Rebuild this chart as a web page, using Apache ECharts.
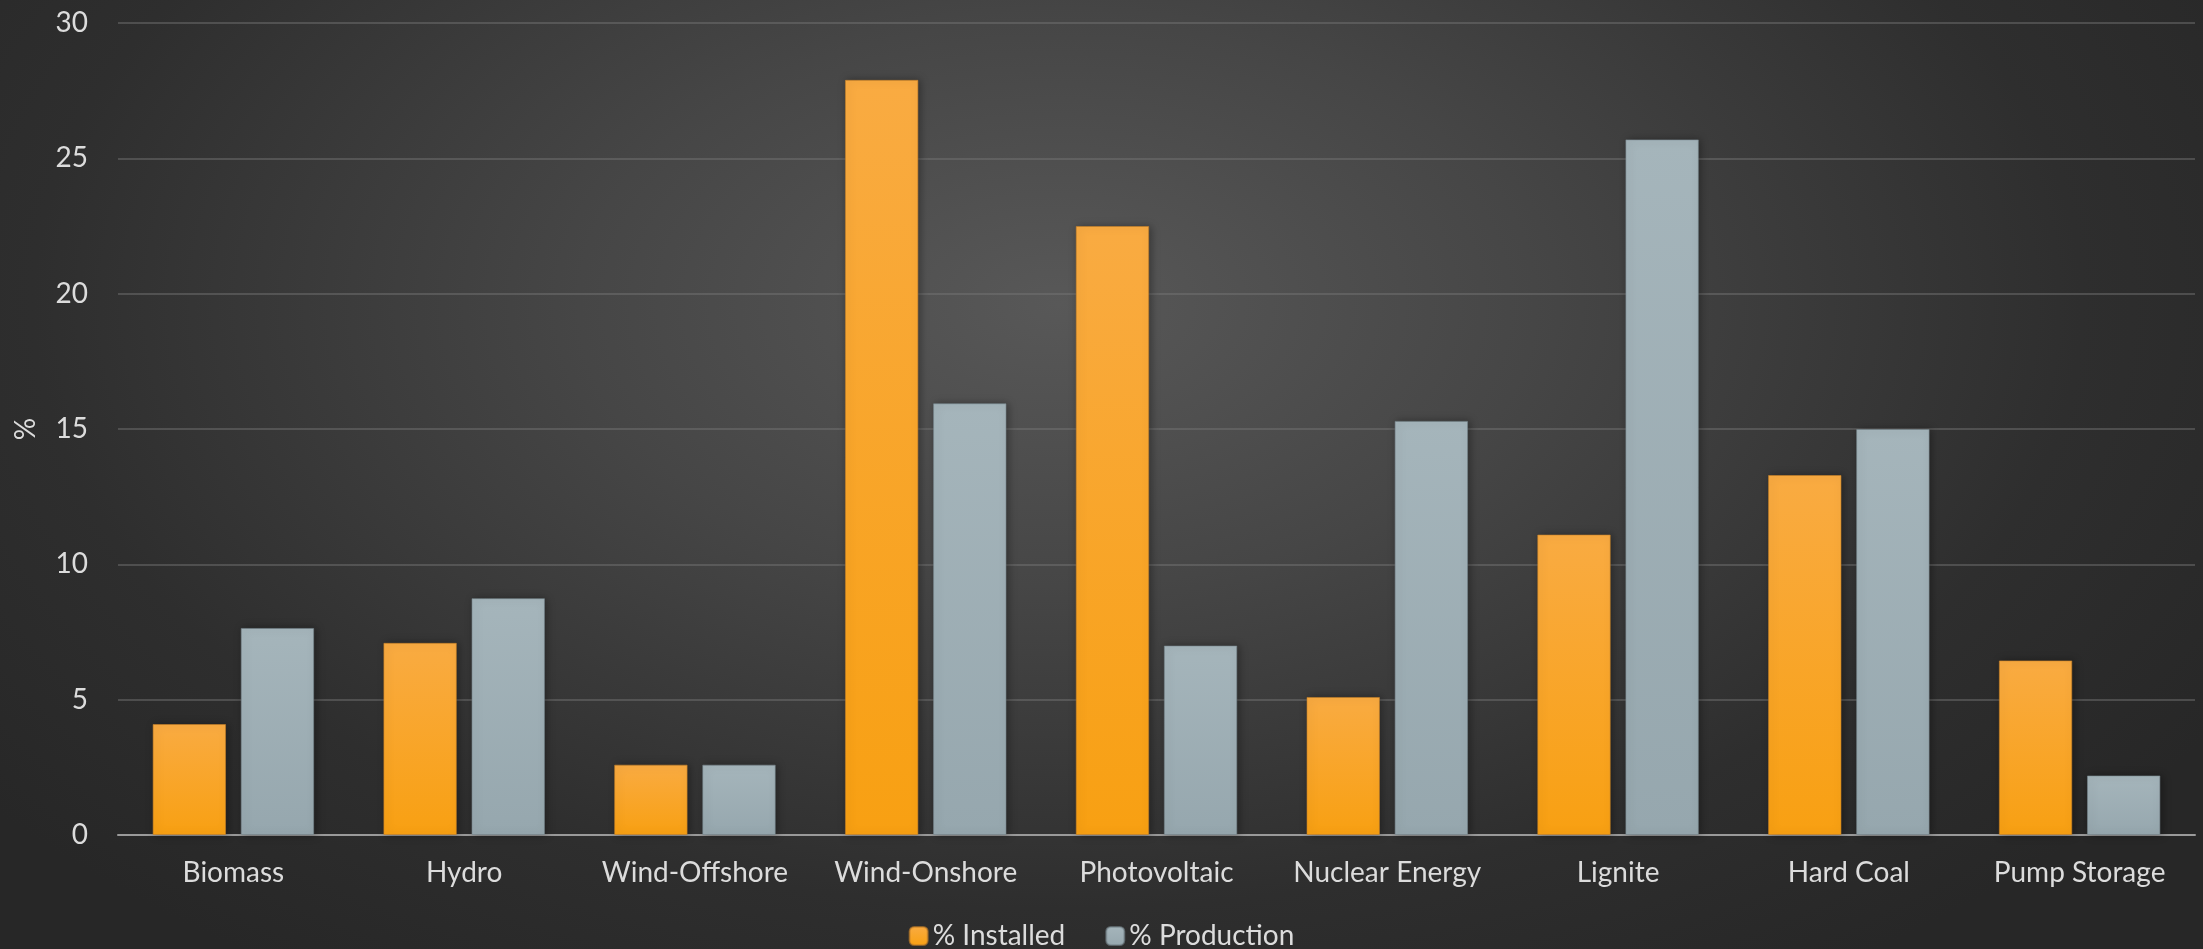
<!DOCTYPE html>
<html>
<head>
<meta charset="utf-8">
<script src="https://cdn.jsdelivr.net/npm/echarts@6/dist/echarts.min.js"></script>
<style>
  html, body { margin: 0; padding: 0; }
  #chart {
    width: 2203px;
    height: 949px;
    background: radial-gradient(ellipse 62% 85% at 48% 32%, #585858 0%, #464646 35%, #2e2e2e 75%, #272727 100%);
  }
</style>
</head>
<body>
<div id="chart"></div>
<script>
  // data
  var categories = ['Biomass', 'Hydro', 'Wind-Offshore', 'Wind-Onshore', 'Photovoltaic', 'Nuclear Energy', 'Lignite', 'Hard Coal', 'Pump Storage']
  var installed = [4.1, 7.1, 2.6, 27.9, 22.5, 5.1, 11.1, 13.3, 6.45]
  var production = [7.65, 8.75, 2.6, 15.95, 7.0, 15.3, 25.7, 15.0, 2.2]
  var seriesNames = ['% Installed', '% Production']

  var font = 'Lato, "Open Sans", sans-serif'
  var textColor = '#dcdcdc'

  var chart = echarts.init(document.getElementById('chart'), null, { renderer: 'canvas' })

  function barGradient(top, bottom) {
    return new echarts.graphic.LinearGradient(0, 0, 0, 1, [
      { offset: 0, color: top },
      { offset: 1, color: bottom }
    ])
  }

  chart.setOption({
    backgroundColor: 'transparent',
    animation: false,
    textStyle: { fontFamily: font },
    legend: {
      bottom: -6,
      left: 'center',
      itemWidth: 18,
      itemHeight: 18,
      itemGap: 40,
      textStyle: { color: textColor, fontSize: 28, fontFamily: font },
      data: seriesNames
    },
    grid: {
      left: 118,
      right: 8,
      top: 23,
      bottom: 114,
      containLabel: false,
      outerBoundsMode: 'none'
    },
    xAxis: {
      type: 'category',
      data: categories,
      axisLine: { lineStyle: { color: '#9a9a9a', width: 2 } },
      axisTick: { show: false },
      axisLabel: { color: textColor, fontSize: 28, margin: 24, interval: 0, fontFamily: font }
    },
    yAxis: {
      type: 'value',
      min: 0,
      max: 30,
      interval: 5,
      name: '%',
      nameLocation: 'middle',
      nameRotate: 90,
      nameGap: 78,
      nameTextStyle: { color: textColor, fontSize: 28, fontFamily: font },
      axisLine: { show: false },
      axisTick: { show: false },
      axisLabel: { color: textColor, fontSize: 28, margin: 30, fontFamily: font },
      splitLine: { lineStyle: { color: 'rgba(120,120,120,0.45)', width: 2 } }
    },
    series: [
      {
        name: seriesNames[0],
        type: 'bar',
        barGap: '20%',
        barCategoryGap: '30%',
        data: installed,
        itemStyle: {
          color: barGradient('#f9ab42', '#f8a012'),
          borderColor: 'rgba(200,130,40,0.6)',
          borderWidth: 1,
          shadowBlur: 8,
          shadowColor: 'rgba(0,0,0,0.35)',
          shadowOffsetX: 2
        }
      },
      {
        name: seriesNames[1],
        type: 'bar',
        data: production,
        itemStyle: {
          color: barGradient('#a5b5bb', '#96a7ae'),
          borderColor: 'rgba(120,135,142,0.6)',
          borderWidth: 1,
          shadowBlur: 8,
          shadowColor: 'rgba(0,0,0,0.35)',
          shadowOffsetX: 2
        }
      }
    ]
  })
</script>
</body>
</html>
